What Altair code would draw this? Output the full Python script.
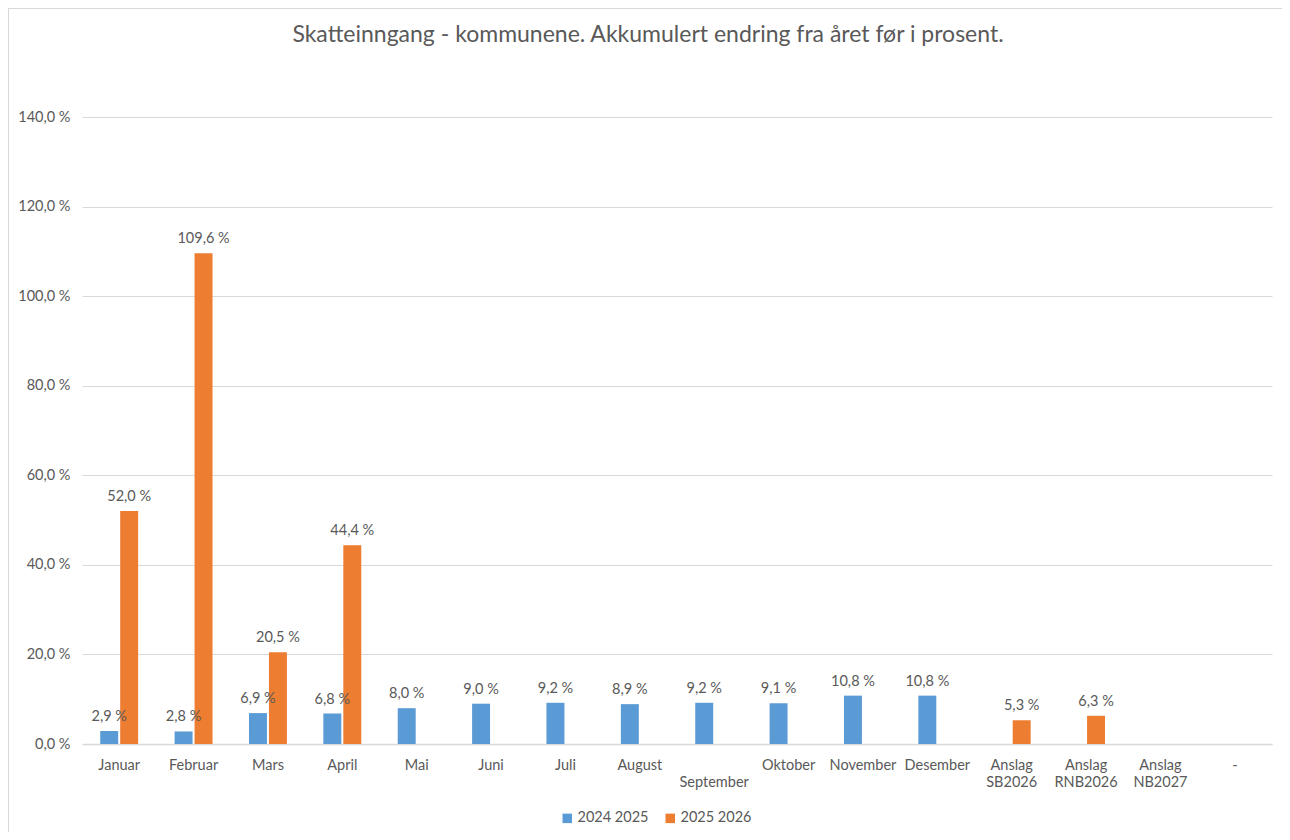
import altair as alt
import pandas as pd

categories = ["Januar", "Februar", "Mars", "April", "Mai", "Juni", "Juli", "August",
              "September", "Oktober", "November", "Desember",
              "Anslag|SB2026", "Anslag|RNB2026", "Anslag|NB2027", "-"]
series_names = ["2024 2025", "2025 2026"]
values_2024_2025 = [2.9, 2.8, 6.9, 6.8, 8.0, 9.0, 9.2, 8.9, 9.2, 9.1, 10.8, 10.8,
                    None, None, None, None]
values_2025_2026 = [52.0, 109.6, 20.5, 44.4, None, None, None, None, None, None, None, None,
                    5.3, 6.3, None, None]
colors = ["#5B9BD5", "#ED7D31"]
y_ticks = [0, 20, 40, 60, 80, 100, 120, 140]

rows = []
for s, vals in zip(series_names, [values_2024_2025, values_2025_2026]):
    for c, v in zip(categories, vals):
        rows.append({"kategori": c, "serie": s, "verdi": v})
df = pd.DataFrame(rows)

FONT = "Lato"
GREY = "#595959"
FS = 14.5

x_enc = alt.X("kategori:N", sort=categories,
              scale=alt.Scale(paddingInner=0.49, paddingOuter=0.245),
              axis=alt.Axis(title=None, labelAngle=0, ticks=False, domainColor="#d9d9d9",
                            domainWidth=1.5, labelPadding=14, labelFontSize=FS,
                            labelColor=GREY, labelFont=FONT, labelBaseline="top",
                            labelExpr="datum.label == 'September' ? [' ', 'September'] : split(datum.label, '|')",
                            labelLineHeight=17))
xoff = alt.XOffset("serie:N", sort=series_names, scale=alt.Scale(paddingInner=0.1))

base = alt.Chart(df)

bars = base.mark_bar().encode(
    x=x_enc,
    xOffset=xoff,
    y=alt.Y("verdi:Q", scale=alt.Scale(domain=[0, 140], nice=False),
            axis=alt.Axis(title=None, values=y_ticks, domain=False, ticks=False,
                          gridColor="#d9d9d9", labelPadding=12, labelFontSize=FS,
                          labelColor=GREY, labelFont=FONT,
                          labelExpr="replace(format(datum.value, '.1f'), '.', ',') + ' %'")),
    color=alt.Color("serie:N", sort=series_names,
                    scale=alt.Scale(domain=series_names, range=colors),
                    legend=alt.Legend(title=None, orient="none", direction="horizontal",
                                      legendX=478, legendY=694, symbolType="square",
                                      symbolSize=90, symbolStrokeWidth=0,
                                      labelFontSize=FS, labelColor=GREY, labelFont=FONT,
                                      columnPadding=14, labelOffset=3)),
)

labels = base.transform_filter("isValid(datum.verdi)").transform_calculate(
    lbl="replace(format(datum.verdi, '.1f'), '.', ',') + ' %'"
).mark_text(baseline="bottom", dy=-7, fontSize=FS, color=GREY, font=FONT).encode(
    x=alt.X("kategori:N", sort=categories),
    xOffset=alt.XOffset("serie:N", sort=series_names),
    y="verdi:Q",
    text="lbl:N",
)

frame_df = pd.DataFrame({"a": [0]})
frame_top = alt.Chart(frame_df).mark_rule(color="#d9d9d9", strokeWidth=2).encode(
    x=alt.value(-74), x2=alt.value(1200), y=alt.value(-109))
frame_left = alt.Chart(frame_df).mark_rule(color="#d9d9d9", strokeWidth=2).encode(
    x=alt.value(-74), y=alt.value(-109), y2=alt.value(730))

chart = alt.layer(bars, labels, frame_top, frame_left).properties(
    width=1190, height=627,
    autosize=alt.AutoSizeParams(type="none"),
    padding={"left": 74, "top": 109, "right": 10, "bottom": 88},
    title=alt.TitleParams("Skatteinngang - kommunene. Akkumulert endring fra året før i prosent.",
                          anchor="middle", dx=-29, offset=-40, fontSize=23, fontWeight="normal",
                          color=GREY, font=FONT),
).configure_view(stroke=None).configure_axis(gridWidth=1)

chart.save("out.html", embed_options={"renderer": "svg", "actions": False})
